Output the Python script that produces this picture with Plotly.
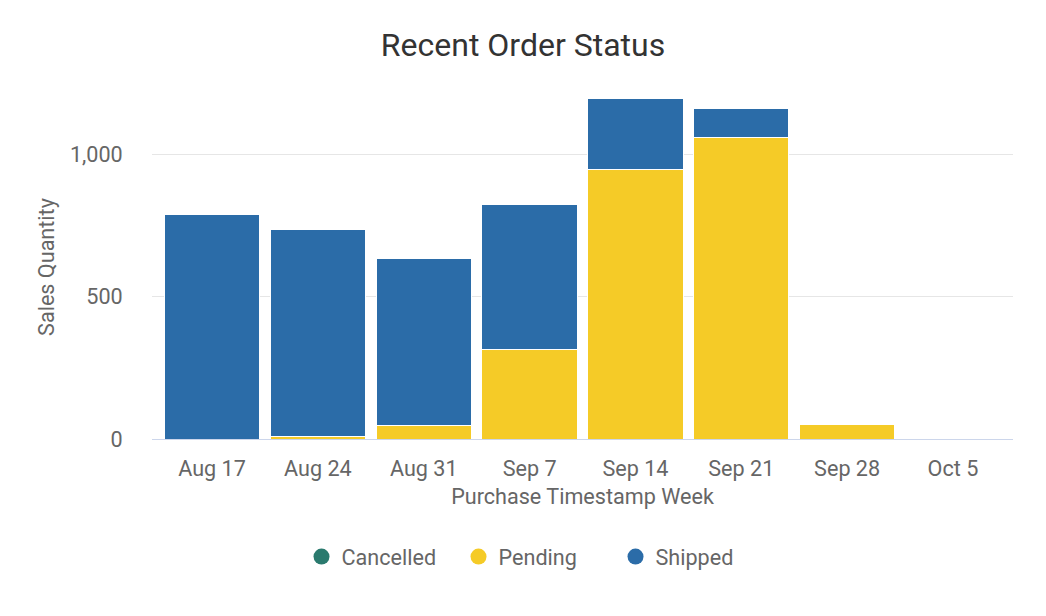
import plotly.graph_objects as go

weeks = ["Aug 17", "Aug 24", "Aug 31", "Sep 7", "Sep 14", "Sep 21", "Sep 28", "Oct 5"]
cancelled = [0, 0, 0, 0, 0, 0, 0, 0]
pending = [0, 8, 46, 314, 947, 1061, 50, 0]
shipped = [789, 728, 588, 510, 252, 100, 0, 0]

colors = {"Cancelled": "#2a7a6e", "Pending": "#f5cb27", "Shipped": "#2b6ca8"}
series = [("Cancelled", cancelled), ("Pending", pending), ("Shipped", shipped)]

fig = go.Figure()
for name, vals in series:
    fig.add_trace(go.Bar(x=weeks, y=vals, name=name, marker=dict(color=colors[name], line=dict(color="white", width=1)),
                         showlegend=False))
for name, vals in series:
    fig.add_trace(go.Scatter(x=[None], y=[None], mode="markers", name=name,
                             marker=dict(color=colors[name], size=22, symbol="circle")))

FS = 21.6
fig.update_layout(
    width=1046, height=616,
    barmode="stack", bargap=0.1,
    plot_bgcolor="white", paper_bgcolor="white",
    font=dict(family="Roboto", size=FS, color="#666666"),
    margin=dict(l=152, r=33, t=95, b=177),
    title=dict(text="Recent Order Status", x=0.5, xanchor="center", xref="container",
               y=1 - 45 / 616, yanchor="middle", yref="container",
               font=dict(size=32, color="#333333")),
    legend=dict(orientation="h", x=0.5134, xanchor="center", xref="container",
                y=1 - 557 / 616, yanchor="middle", yref="container", traceorder="normal",
                font=dict(size=FS, color="#666666"), itemsizing="trace", entrywidth=112),
    xaxis=dict(title=dict(text="Purchase Timestamp Week", standoff=8, font=dict(size=FS)),
               range=[-0.567, 7.567],
               showline=True, linecolor="#ccd6eb", linewidth=1,
               ticks="outside", ticklen=10, tickcolor="white", showgrid=False),
    yaxis=dict(title=dict(text="Sales Quantity", font=dict(size=FS), standoff=9),
               range=[0, 1210], tickvals=[0, 500, 1000], tickformat=",",
               showgrid=True, gridcolor="#e6e6e6", gridwidth=1,
               zeroline=False, ticks="outside", ticklen=24, tickcolor="white"),
)

fig.write_html("out.html")
